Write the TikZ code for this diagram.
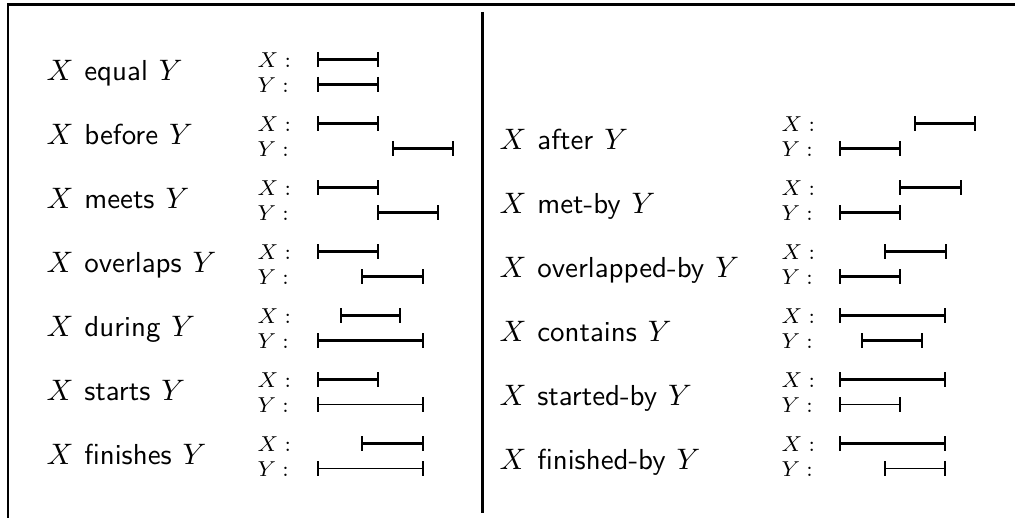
\documentclass[tikz,border=0pt]{standalone}
\begin{document}
\begin{tikzpicture}[x=0.37pt,y=-0.37pt,
  frame/.style={line width=1pt},
  midrule/.style={line width=1.1pt},
  thickbar/.style={line width=1.05pt},
  thinbar/.style={line width=0.5pt},
  tick/.style={line width=1pt},
  rel/.style={anchor=base west,inner sep=0pt,font=\sffamily\fontsize{10.7}{13}\selectfont},
  xy/.style={anchor=west,inner sep=0pt,font=\fontsize{8}{10}\selectfont}]
\useasboundingbox (0,0) rectangle (1015,518);
\newcommand{\seg}[4]{%
  \draw[#1] (#2,#4) -- (#3,#4);
  \draw[tick] (#2,#4-7.5) -- (#2,#4+7.5) (#3,#4-7.5) -- (#3,#4+7.5);}
\newcommand{\relname}[1]{$X$\hspace{0.38em}#1\hspace{0.38em}$Y$}
% frame
\coordinate (tl) at (8,4.7);
\coordinate (tr) at (1015,4.7);
\coordinate (bl) at (8,518);
\coordinate (mt) at (482.5,12);
\coordinate (mb) at (482.5,513);
\draw[frame] (bl) -- (tl) -- (tr);
\draw[midrule] (mt) -- (mb);
% left column
\foreach \k/\name in {0/equal,1/before,2/meets,3/overlaps,4/during,5/starts,6/finishes}{
  \pgfmathsetmacro{\yy}{59.5+64*\k}
  \node[rel] (L\k) at (46,\yy+21) {\relname{\name}};
  \node[xy] (LX\k) at (257,\yy+1) {$X:$};
  \node[xy] (LY\k) at (257,\yy+26) {$Y:$};
}
\foreach \k/\name in {1/after,2/met-by,3/overlapped-by,4/contains,5/started-by,6/finished-by}{
  \pgfmathsetmacro{\yy}{59.5+64*\k}
  \node[rel] (R\k) at (499,\yy+26) {\relname{\name}};
  \node[xy] (RX\k) at (781,\yy+1) {$X:$};
  \node[xy] (RY\k) at (781,\yy+26) {$Y:$};
}
% bars left (origin 318)
\seg{thickbar}{318}{378}{59.5}     \seg{thickbar}{318}{378}{84.5}
\seg{thickbar}{318}{378}{123.5}    \seg{thickbar}{393}{453}{148.5}
\seg{thickbar}{318}{378}{187.5}    \seg{thickbar}{378}{438}{212.5}
\seg{thickbar}{318}{378}{251.5}    \seg{thickbar}{362}{423}{276.5}
\seg{thickbar}{341}{400}{315.5}    \seg{thickbar}{318}{423}{340.5}
\seg{thickbar}{318}{378}{379.5}    \seg{thinbar}{318}{423}{404.5}
\seg{thickbar}{362}{423}{443.5}    \seg{thinbar}{318}{423}{468.5}
% bars right (origin 840)
\seg{thickbar}{915}{975}{123.5}    \seg{thickbar}{840}{900}{148.5}
\seg{thickbar}{900}{961}{187.5}    \seg{thickbar}{840}{900}{212.5}
\seg{thickbar}{885}{946}{251.5}    \seg{thickbar}{840}{900}{276.5}
\seg{thickbar}{840}{945}{315.5}    \seg{thickbar}{862}{922}{340.5}
\seg{thickbar}{840}{945}{379.5}    \seg{thinbar}{840}{900}{404.5}
\seg{thickbar}{840}{945}{443.5}    \seg{thinbar}{885}{945}{468.5}
\end{tikzpicture}
\end{document}
